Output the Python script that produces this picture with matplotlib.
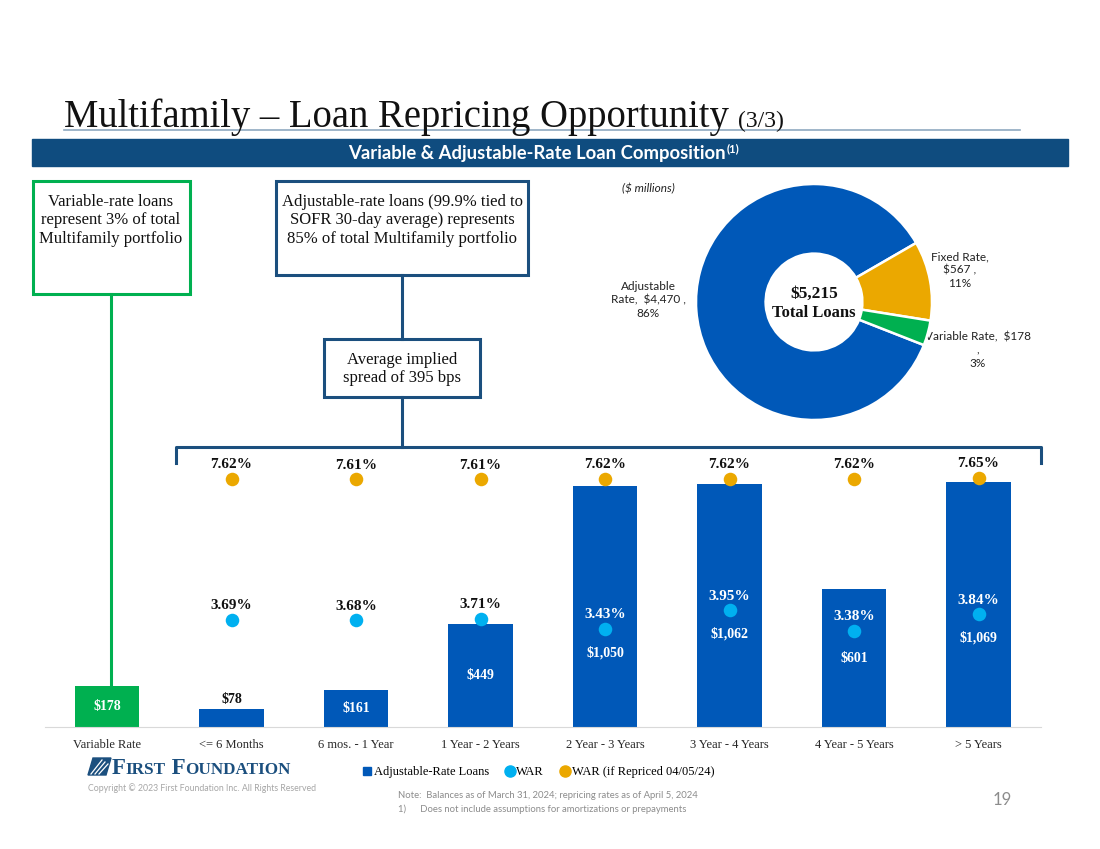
import numpy as np
import matplotlib.pyplot as plt
from matplotlib.patches import Rectangle, Polygon
from matplotlib.lines import Line2D

# data
categories = ['Variable Rate', '<= 6 Months', '6 mos. - 1 Year', '1 Year - 2 Years',
              '2 Year - 3 Years', '3 Year - 4 Years', '4 Year - 5 Years', '> 5 Years']
balances = [178, 78, 161, 449, 1050, 1062, 601, 1069]
war = [np.nan, 3.69, 3.68, 3.71, 3.43, 3.95, 3.38, 3.84]
war_repriced = [np.nan, 7.62, 7.61, 7.61, 7.62, 7.62, 7.62, 7.65]

pie_names = ['Adjustable\nRate', 'Fixed Rate', 'Variable Rate']
pie_values = [4470, 567, 178]

BLUE = '#0058B8'
GREEN = '#00B050'
CYAN = '#00B0F0'
ORANGE = '#EBA800'
NAVY = '#1B4F7E'
SERIF = 'Liberation Serif'
SANS = 'Lato'

W, H = 1100, 849
fig = plt.figure(figsize=(W / 100, H / 100), dpi=100)
renderer = fig.canvas.get_renderer()


def box(x, y, w, h):
    return [x / W, 1 - (y + h) / H, w / W, h / H]


def right_edge(t):
    bb = t.get_window_extent(renderer)
    return ov.transData.inverted().transform((bb.x1, 0))[0]


# overlay axes in pixel coords for the slide decorations
ov = fig.add_axes([0, 0, 1, 1])
ov.set_xlim(0, W)
ov.set_ylim(H, 0)
ov.axis('off')

# title + rule
ov.plot([64, 1020], [130, 130], color='#8FA9C0', lw=1.2)
t_title = ov.text(64, 127, 'Multifamily \u2013 Loan Repricing Opportunity', family=SERIF,
                  size=27.8, color='#111111', va='baseline')
ov.text(right_edge(t_title) + 9, 127, '(3/3)', family=SERIF, size=17, color='#111111',
        va='baseline')

# header band
ov.add_patch(Rectangle((32, 139), 1036, 27, color='#0F4C7F'))
t_hdr = ov.text(348, 153, 'Variable & Adjustable-Rate Loan Composition', family=SANS,
                weight='bold', size=13.3, color='white', va='center')
ov.text(right_edge(t_hdr) + 1, 149, '(1)', family=SANS, weight='bold', size=8,
        color='white', va='center')

# callout boxes and connectors
ov.add_patch(Rectangle((33, 181), 157, 113, fill=False, ec=GREEN, lw=2.2))
ov.text(111, 194, 'Variable-rate loans\nrepresent 3% of total\nMultifamily portfolio',
        family=SERIF, size=12, ha='center', va='top', linespacing=1.2, color='#111111')
ov.plot([111, 111], [294, 687], color=GREEN, lw=2.2)

ov.add_patch(Rectangle((276, 181), 252, 94, fill=False, ec=NAVY, lw=2.2))
ov.text(402, 194, 'Adjustable-rate loans (99.9% tied to\nSOFR 30-day average) represents\n'
        '85% of total Multifamily portfolio',
        family=SERIF, size=12, ha='center', va='top', linespacing=1.2, color='#111111')
ov.plot([402, 402], [275, 339], color=NAVY, lw=2.2)

ov.add_patch(Rectangle((324, 339), 156, 58, fill=False, ec=NAVY, lw=2.2))
ov.text(402, 369, 'Average implied\nspread of 395 bps', family=SERIF, size=12,
        ha='center', va='center', linespacing=1.2, color='#111111')
ov.plot([402, 402], [397, 447], color=NAVY, lw=2.2)
ov.plot([176, 176, 1041, 1041], [463, 447, 447, 463], color=NAVY, lw=2.2)

# bar chart
x = np.arange(len(categories))
ax = fig.add_axes(box(44.75, 452, 996, 275))
bar_colors = [GREEN] + [BLUE] * (len(categories) - 1)
ax.bar(x, balances, width=0.52, color=bar_colors, zorder=2)
ax.set_xlim(-0.5, 7.5)
ax.set_ylim(0, 1200)
for s in ['top', 'left', 'right']:
    ax.spines[s].set_visible(False)
ax.spines['bottom'].set_color('#D9D9D9')
ax.set_yticks([])
ax.set_xticks(x, categories)
ax.tick_params(axis='x', length=0, pad=9, labelsize=9, labelcolor='#262626')
for lab in ax.get_xticklabels():
    lab.set_family(SERIF)
ax.patch.set_alpha(0)

ax2 = ax.twinx()
ax2.set_ylim(0.69, 8.37)
ax2.axis('off')
ax2.scatter(x, war, s=95, color=CYAN, zorder=3, lw=0)
ax2.scatter(x, war_repriced, s=95, color=ORANGE, zorder=3, lw=0)

for i in x:
    b = balances[i]
    top = ax.transData.transform((i, b))[1]
    base = ax.transData.transform((i, 0))[1]
    # rate labels above the dots, white when they sit inside a bar
    for v in (war[i], war_repriced[i]):
        if np.isnan(v):
            continue
        dot = ax2.transData.transform((i, v))[1]
        col = 'white' if dot < top - 10 else '#111111'
        ax2.annotate(f'{v:.2f}%', (i, v), xytext=(0, 10), textcoords='offset points',
                     ha='center', va='center', family=SERIF, weight='bold', size=11,
                     color=col, zorder=4)
    # balance labels
    if b < 100:
        ax.annotate(f'${b:,}', (i, b), xytext=(0, 7), textcoords='offset points',
                    ha='center', va='center', family=SERIF, weight='bold', size=10,
                    color='#111111')
    else:
        y = (top + base) / 2
        if not np.isnan(war[i]):
            dot = ax2.transData.transform((i, war[i]))[1]
            y = min(y, dot - 24)
        yd = ax.transData.inverted().transform((0, y))[1]
        ax.text(i, yd, f'${b:,}', ha='center', va='center', family=SERIF,
                weight='bold', size=10, color='white', zorder=4)

handles = [Line2D([], [], marker='s', ls='', color=BLUE, markersize=6),
           Line2D([], [], marker='o', ls='', color=CYAN, markersize=8),
           Line2D([], [], marker='o', ls='', color=ORANGE, markersize=8)]
fig.legend(handles, ['Adjustable-Rate Loans', 'WAR', 'WAR (if Repriced 04/05/24)'],
           loc='center left', bbox_to_anchor=(356 / W, 1 - 772 / H), ncol=3, frameon=False,
           prop={'family': SERIF, 'size': 9}, handletextpad=0.1, columnspacing=1.3,
           handlelength=0.8, borderpad=0)

# donut
pax = fig.add_axes(box(696, 184, 236, 236))
total = sum(pie_values)
pax.pie(pie_values, colors=[BLUE, ORANGE, GREEN], startangle=338.6, counterclock=False,
        wedgeprops=dict(width=0.59, edgecolor='white', linewidth=1.8))
pax.set_xlim(-1, 1)
pax.set_ylim(-1, 1)
pax.text(0, 0.07, f'${total:,}', ha='center', va='center', family=SERIF, weight='bold',
         size=12.5, color='#111111')
pax.text(0, -0.09, 'Total Loans', ha='center', va='center', family=SERIF, weight='bold',
         size=12, color='#111111')
pct = [round(v / total * 100) for v in pie_values]
ov.text(648, 300, f'{pie_names[0]},  ${pie_values[0]:,} ,\n{pct[0]}%', family=SANS, size=8.5,
        ha='center', va='center', linespacing=1.25, color='#222222')
ov.text(960, 270, f'{pie_names[1]},\n${pie_values[1]:,} ,\n{pct[1]}%', family=SANS, size=8.5,
        ha='center', va='center', linespacing=1.25, color='#222222')
ov.text(978, 350, f'{pie_names[2]},  ${pie_values[2]:,}\n,\n{pct[2]}%', family=SANS, size=8.5,
        ha='center', va='center', linespacing=1.25, color='#222222')
ov.text(648, 189, '($ millions)', family=SANS, style='italic', size=8.5, ha='center',
        va='center', color='#222222')

# footer: logo, copyright, notes, page number
ov.add_patch(Polygon([[93, 758], [111, 758], [106, 775], [88, 775]], color=NAVY))
for k in range(3):
    ov.plot([91 + k * 4, 102 + k * 3], [774, 760 + k * 2], color='white', lw=0.9)
xcur = 112
for piece, sz in [('F', 16.5), ('IRST', 12.3), (' F', 16.5), ('OUNDATION', 12.3)]:
    t = ov.text(xcur, 774, piece, family=SERIF, weight='bold', size=sz, color=NAVY,
                va='baseline')
    xcur = right_edge(t)
ov.text(88, 788, 'Copyright \u00a9 2023 First Foundation Inc. All Rights Reserved', family=SANS,
        size=6.3, color='#A6A6A6', va='center')
ov.text(398, 796, 'Note:  Balances as of March 31, 2024; repricing rates as of April 5, 2024',
        family=SANS, size=6.8, color='#8C8C8C', va='center')
ov.text(398, 809, '1)      Does not include assumptions for amortizations or prepayments',
        family=SANS, size=6.8, color='#8C8C8C', va='center')
ov.text(1012, 800, '19', family=SANS, size=12, color='#8C8C8C', ha='right', va='center')

fig.savefig('out.png', dpi=100)
